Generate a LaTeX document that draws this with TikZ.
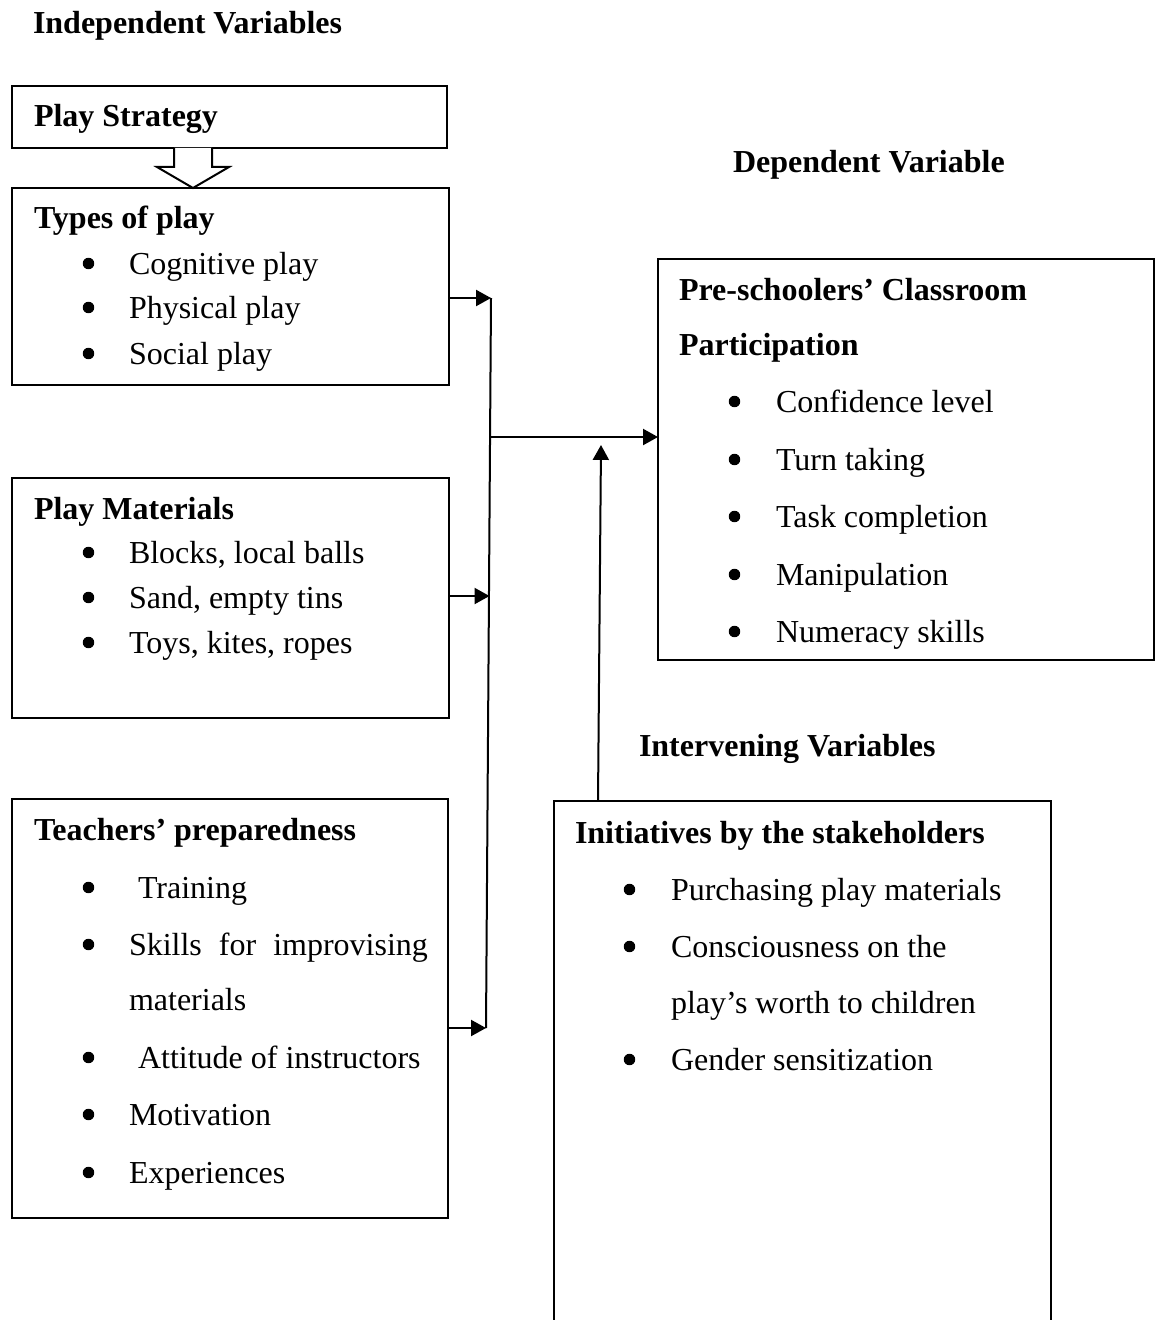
\documentclass[tikz,border=0pt]{standalone}
\usepackage{fontspec}
\setmainfont{Liberation Serif}
\usetikzlibrary{arrows.meta}
\begin{document}
\begin{tikzpicture}[x=0.375pt,y=-0.375pt, line width=0.75pt,
  box/.style={draw, rectangle, anchor=north west, inner sep=0pt, outer sep=0pt},
  txt/.style={anchor=base west, inner sep=0pt, font=\fontsize{12}{14}\selectfont},
  hd/.style={anchor=base west, inner sep=0pt, font=\fontsize{12}{14}\selectfont\bfseries},
  bul/.style={circle, fill, draw=none, inner sep=0pt, minimum size=4.3pt},
  arr/.style={-{Triangle[length=5.6pt,width=6pt]}, line width=0.75pt}]
\useasboundingbox (0,0) rectangle (1157,1320);
% boxes
\node[box, minimum width={435*0.375pt}, minimum height={62*0.375pt}] (ps) at (12,86) {};
\node[box, minimum width={437*0.375pt}, minimum height={197*0.375pt}] (tp) at (12,188) {};
\node[box, minimum width={437*0.375pt}, minimum height={240*0.375pt}] (pm) at (12,478) {};
\node[box, minimum width={436*0.375pt}, minimum height={419*0.375pt}] (tr) at (12,799) {};
\node[box, minimum width={496*0.375pt}, minimum height={401*0.375pt}] (cp) at (658,259) {};
\node[box, minimum width={497*0.375pt}, minimum height={540*0.375pt}] (is) at (554,801) {};
% headings
\node[hd] (h1) at (32,34) {Independent Variables};
\node[hd] (h2) at (732,172) {Dependent Variable};
\node[hd] (h3) at (638,756) {Intervening Variables};
% play strategy
\node[hd] (t0) at (33,127) {Play Strategy};
\draw[fill=white, line join=miter] (174,148) -- (174,167) -- (157,167) -- (193,188) -- (229,167) -- (212,167) -- (212,148);
% types of play
\node[hd] (t1) at (33,229) {Types of play};
\foreach \y/\t [count=\i] in {274/Cognitive play, 318/Physical play, 364/Social play}{
  \node[bul] (tb\i) at (88.5,\y-10.5) {};
  \node[txt] (tt\i) at (128,\y) {\t};
}
% play materials
\node[hd] (t2) at (33,519) {Play Materials};
\foreach \y/\t [count=\i] in {563/{Blocks, local balls}, 608/{Sand, empty tins}, 653/{Toys, kites, ropes}}{
  \node[bul] (mb\i) at (88.5,\y-10.5) {};
  \node[txt] (mt\i) at (128,\y) {\t};
}
% teachers
\node[hd] (t3) at (33,840) {Teachers’ preparedness};
\foreach \y [count=\i] in {898,955,1068,1125,1183}{
  \node[bul] (rb\i) at (88.5,\y-10.5) {};
}
\node[txt] (rt1) at (137,898) {Training};
\node[txt] (rt2) at (128,955) {\makebox[112.1pt][s]{Skills for improvising}};
\node[txt] (rt3) at (128,1010) {materials};
\node[txt] (rt4) at (137,1068) {Attitude of instructors};
\node[txt] (rt5) at (128,1125) {Motivation};
\node[txt] (rt6) at (128,1183) {Experiences};
% classroom participation
\node[hd] (t4) at (678,300) {Pre-schoolers’ Classroom};
\node[hd] (t5) at (678,355) {Participation};
\foreach \y/\t [count=\i] in {412/Confidence level, 470/Turn taking, 527/Task completion, 585/Manipulation, 642/Numeracy skills}{
  \node[bul] (cb\i) at (734.5,\y-10.5) {};
  \node[txt] (ct\i) at (775,\y) {\t};
}
% initiatives
\node[hd] (t6) at (574,843) {Initiatives by the stakeholders};
\foreach \y [count=\i] in {900,957,1070}{
  \node[bul] (ib\i) at (629.5,\y-10.5) {};
}
\node[txt] (it1) at (670,900) {Purchasing play materials};
\node[txt] (it2) at (670,957) {Consciousness on the};
\node[txt] (it3) at (670,1013) {play’s worth to children};
\node[txt] (it4) at (670,1070) {Gender sensitization};
% connectors
\coordinate (vtop) at (491,298);
\coordinate (vbot) at (486,1028);
\coordinate (vmid) at (490,437);
\coordinate (vm2) at (489.5,596);
\draw (vtop) -- (vbot);
\draw[arr] (tp.east |- vtop) -- (vtop);
\draw[arr] (pm.east |- vm2) -- (vm2);
\draw[arr] (tr.east |- vbot) -- (vbot);
\draw[arr] (vmid) -- (cp.west |- vmid);
\coordinate (up1) at (598,801);
\coordinate (up2) at (601,445);
\draw[arr] (up1) -- (up2);
\end{tikzpicture}
\end{document}
